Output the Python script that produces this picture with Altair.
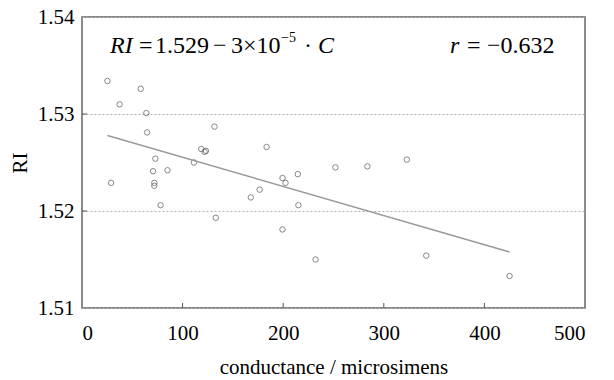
import altair as alt
import pandas as pd

conductance = [25.3, 28.9, 37.4, 58.4, 64.0, 64.7, 72.9, 70.6, 71.9, 71.9, 78.1, 85.0,
               111.3, 118.5, 121.9, 123.2, 131.7, 133.0, 167.8, 176.6, 183.5, 199.3,
               202.3, 199.3, 214.5, 215.1, 232.2, 251.9, 283.7, 322.9, 342.2, 425.0]
ri = [1.5334, 1.5229, 1.5310, 1.5326, 1.5301, 1.5281, 1.5254, 1.5241, 1.5229, 1.5226,
      1.5206, 1.5242, 1.5250, 1.5264, 1.5261, 1.5262, 1.5287, 1.5193, 1.5214, 1.5222,
      1.5266, 1.5234, 1.5229, 1.5181, 1.5238, 1.5206, 1.5150, 1.5245, 1.5246, 1.5253,
      1.5154, 1.5133]
x_ticks = [0, 100, 200, 300, 400, 500]
y_ticks = [1.51, 1.52, 1.53, 1.54]
inner_x_ticks = [100, 200, 300, 400]
inner_y_ticks = [1.52, 1.53]

W, H = 503, 291
FONT = "Liberation Serif"
FS = 21
EQ = 24

df = pd.DataFrame({"C": conductance, "RI": ri})

xs = alt.Scale(domain=[0, 500], nice=False, zero=False)
ys = alt.Scale(domain=[1.51, 1.54], nice=False, zero=False)

base = alt.Chart(df)

points = base.mark_point(shape="circle", filled=False, color="#555555",
                         size=30, strokeWidth=1).encode(
    x=alt.X("C:Q", scale=xs, title="conductance / microsimens",
            axis=alt.Axis(values=x_ticks, grid=False, domain=False, ticks=False,
                          labelPadding=14, titlePadding=13, format="d")),
    y=alt.Y("RI:Q", scale=ys, title="RI",
            axis=alt.Axis(values=y_ticks, grid=True, gridDash=[2, 2], gridColor="#b0b0b0",
                          domain=False, ticks=False, labelPadding=8, titlePadding=7,
                          format=".2f")),
)

fit = base.transform_regression("C", "RI").mark_line(color="#999999", strokeWidth=1.5).encode(
    x=alt.X("C:Q", scale=xs), y=alt.Y("RI:Q", scale=ys))

xt = alt.Chart(pd.DataFrame({"v": inner_x_ticks})).mark_rule(color="#555555").encode(
    x=alt.X("v:Q", scale=xs), y=alt.value(H), y2=alt.value(H - 5))
yt = alt.Chart(pd.DataFrame({"v": inner_y_ticks})).mark_rule(color="#555555").encode(
    y=alt.Y("v:Q", scale=ys), x=alt.value(0), x2=alt.value(5))

ann_df = pd.DataFrame({"a": [0]})
def txt(s, x, y, size=EQ, style="normal"):
    return alt.Chart(ann_df).mark_text(text=s, font=FONT, fontSize=size, fontStyle=style,
                                       align="left", baseline="alphabetic",
                                       color="#000000").encode(
        x=alt.value(x), y=alt.value(y))

y0 = 36
eq = (txt("RI", 28, y0, style="italic")
      + txt("=", 57, y0)
      + txt("1.529", 73, y0)
      + txt("\u2212", 131, y0)
      + txt("3\u00d710", 149, y0)
      + txt("\u22125", 199, y0 - 11, size=14)
      + txt("\u00b7", 222, y0)
      + txt("C", 236, y0, style="italic")
      + txt("r", 368, y0, style="italic")
      + txt("=", 385, y0)
      + txt("\u22120.632", 405, y0))

chart = alt.layer(points, fit, xt, yt, eq).properties(
    width=W, height=H,
    background="white",
    autosize=alt.AutoSizeParams(type="none"),
    padding={"left": 82, "top": 17, "right": 29, "bottom": 72},
).configure_view(stroke="#666666", strokeWidth=1.5).configure_axis(
    labelFont=FONT, titleFont=FONT, labelFontSize=FS, titleFontSize=FS,
    labelColor="#000000", titleColor="#000000", titleFontWeight="normal",
)

chart.save("out.html", embed_options={"renderer": "svg", "actions": False})
